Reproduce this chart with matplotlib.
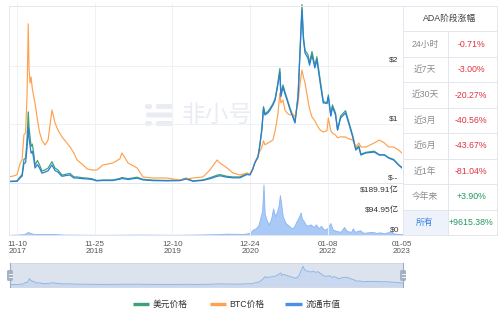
import matplotlib
matplotlib.use('Agg')
import matplotlib.pyplot as plt
import matplotlib.dates as mdates
import pandas as pd
from matplotlib.lines import Line2D
from matplotlib.patches import Rectangle, FancyBboxPatch

FONT = ['Liberation Sans Narrow', 'Liberation Sans', 'Noto Sans CJK SC', 'DejaVu Sans']
plt.rcParams['font.family'] = FONT

# ---------------- data ----------------
dates = ['2017-10-01', '2017-10-20', '2017-11-10', '2017-11-25', '2017-12-05', '2017-12-14',
         '2017-12-22', '2017-12-29', '2018-01-04', '2018-01-08', '2018-01-13', '2018-01-18',
         '2018-01-24', '2018-01-31', '2018-02-06', '2018-02-18', '2018-03-01', '2018-03-12',
         '2018-03-27', '2018-04-11', '2018-04-30', '2018-05-15', '2018-05-29', '2018-06-18',
         '2018-07-12', '2018-07-27', '2018-08-15', '2018-08-30', '2018-09-29', '2018-10-18',
         '2018-11-10', '2018-12-06', '2019-01-04', '2019-02-22', '2019-03-28', '2019-04-07',
         '2019-05-07', '2019-06-20', '2019-07-19', '2019-09-06', '2019-11-13', '2020-01-16',
         '2020-02-15', '2020-03-19', '2020-05-07', '2020-06-10', '2020-07-15', '2020-07-29',
         '2020-09-02', '2020-10-01', '2020-11-04', '2020-12-08', '2020-12-23', '2021-01-05',
         '2021-01-16', '2021-01-31', '2021-02-08', '2021-02-19', '2021-02-27', '2021-03-06',
         '2021-03-21', '2021-03-31', '2021-04-14', '2021-04-25', '2021-05-08', '2021-05-18',
         '2021-05-23', '2021-06-02', '2021-06-12', '2021-06-22', '2021-07-07', '2021-07-20',
         '2021-07-31', '2021-08-15', '2021-08-25', '2021-09-03', '2021-09-10', '2021-09-18',
         '2021-10-02', '2021-10-10', '2021-10-22', '2021-11-05', '2021-11-15', '2021-12-01',
         '2021-12-16', '2022-01-03', '2022-01-10', '2022-01-22', '2022-01-30', '2022-02-14',
         '2022-02-24', '2022-03-11', '2022-04-04', '2022-04-19', '2022-05-09', '2022-05-24',
         '2022-06-08', '2022-06-18', '2022-07-13', '2022-08-22', '2022-09-16', '2022-10-11',
         '2022-10-31', '2022-11-25', '2022-12-19', '2023-01-05']
usd_price = [0.025, 0.028, 0.030, 0.10, 0.14, 0.40, 0.42, 0.72, 1.21, 0.95, 0.78, 0.62,
             0.66, 0.50, 0.30, 0.38, 0.30, 0.20, 0.22, 0.25, 0.36, 0.25, 0.22, 0.13,
             0.15, 0.16, 0.10, 0.10, 0.085, 0.080, 0.070, 0.040, 0.048, 0.048, 0.075, 0.090,
             0.070, 0.095, 0.060, 0.045, 0.040, 0.045, 0.080, 0.032, 0.050, 0.085, 0.13, 0.14,
             0.11, 0.10, 0.10, 0.16, 0.15, 0.23, 0.35, 0.45, 0.62, 0.92, 1.30, 1.18,
             1.22, 1.27, 1.35, 1.44, 1.70, 1.95, 1.50, 1.67, 1.55, 1.44, 1.27, 1.15,
             1.04, 1.50, 2.30, 3.04, 2.50, 2.26, 2.19, 2.05, 2.24, 2.00, 2.15, 1.76,
             1.40, 1.35, 1.50, 1.15, 1.33, 1.19, 0.90, 1.14, 1.23, 1.05, 0.81, 0.58,
             0.63, 0.49, 0.52, 0.54, 0.48, 0.48, 0.43, 0.40, 0.31, 0.26]
btc_price_sat = [300, 330, 400, 950, 1150, 2400, 2500, 4300, 7950, 5650, 4990, 5290,
                 4700, 4290, 3990, 3150, 2500, 2140, 1890, 2140, 3640, 2990, 2640, 2290,
                 1990, 1800, 1490, 1150, 890, 700, 640, 640, 890, 990, 1200, 1490,
                 990, 740, 290, 240, 240, 140, 200, 240, 290, 640, 1140, 990,
                 740, 490, 390, 490, 440, 700, 1000, 1290, 1550, 1790, 2100, 1900,
                 1990, 2050, 2140, 2600, 3400, 4490, 4000, 4140, 3640, 3490, 3390, 3450,
                 3290, 3990, 4990, 5640, 5300, 4990, 4140, 3700, 3290, 3100, 2890, 2640,
                 2540, 2600, 3240, 2600, 2490, 2390, 2250, 2300, 2290, 2200, 2140, 1790,
                 1990, 1790, 1790, 1990, 2140, 1990, 1790, 1790, 1640, 1490]
market_cap_yi = [6.5, 7.2, 7.8, 26, 36, 104, 109, 187, 302, 240, 200, 160,
                 170, 130, 80, 98, 78, 52, 58, 65, 96, 66, 58, 35,
                 40, 42, 26, 26, 22, 21, 18, 10.5, 12.5, 12.5, 19.5, 23.5,
                 18, 25, 15.5, 11.7, 10.5, 11.7, 20.8, 8.3, 13, 22, 35, 38,
                 30, 27, 27, 45, 42, 72, 108, 139, 192, 285, 403, 366,
                 378, 393, 420, 447, 528, 598, 465, 517, 480, 447, 393, 356,
                 323, 463, 715, 933, 775, 701, 674, 635, 690, 620, 663, 539,
                 431, 430, 463, 360, 409, 366, 285, 350, 377, 323, 247, 177,
                 193, 150, 161, 166, 150, 150, 134, 123, 96, 80]

vol_dates = ['2017-10-01', '2017-12-15', '2018-01-04', '2018-01-10', '2018-02-01', '2018-04-30',
             '2018-07-01', '2019-01-01', '2019-06-20', '2020-01-01', '2020-03-15', '2020-07-15',
             '2020-09-01', '2020-11-20', '2020-12-23', '2021-01-05', '2021-01-20', '2021-02-01',
             '2021-02-10', '2021-02-20', '2021-02-27', '2021-03-05', '2021-03-15', '2021-03-25',
             '2021-04-05', '2021-04-15', '2021-04-25', '2021-05-05', '2021-05-12', '2021-05-18',
             '2021-05-24', '2021-06-01', '2021-06-15', '2021-07-01', '2021-07-15', '2021-07-25',
             '2021-08-10', '2021-08-20', '2021-08-28', '2021-09-03', '2021-09-10', '2021-09-20',
             '2021-10-01', '2021-10-15', '2021-10-30', '2021-11-10', '2021-11-25', '2021-12-05',
             '2021-12-20', '2022-01-05', '2022-01-20', '2022-02-01', '2022-02-20', '2022-03-10',
             '2022-03-28', '2022-04-10', '2022-05-01', '2022-05-10', '2022-05-20', '2022-06-13',
             '2022-07-01', '2022-07-20', '2022-08-15', '2022-09-01', '2022-09-20', '2022-10-10',
             '2022-11-09', '2022-11-25', '2022-12-15', '2023-01-05']
volume_yi = [0.5, 3, 12, 8, 4, 4,
             1.5, 0.6, 1.5, 0.8, 1.5, 3,
             5, 4, 8, 20, 25, 35,
             60, 90, 189.91, 80, 55, 40,
             60, 100, 70, 90, 110, 150,
             120, 70, 45, 35, 25, 30,
             55, 70, 85, 60, 55, 40,
             35, 40, 30, 40, 25, 35,
             20, 25, 45, 20, 15, 12,
             30, 15, 12, 25, 12, 18,
             8, 10, 12, 8, 10, 6,
             14, 6, 4, 4]

tick_dates = ['2017-11-10', '2018-11-25', '2019-12-10', '2020-12-24', '2022-01-08', '2023-01-05']
tick_labels = ['11-10\n2017', '11-25\n2018', '12-10\n2019', '12-24\n2020', '01-08\n2022', '01-05\n2023']
price_ticks = [0, 1, 2]
price_tick_labels = ['$--', '$1', '$2']
vol_ticks = [0, 94.95, 189.91]
vol_tick_labels = ['$0', '$94.95亿', '$189.91亿']
table_title = 'ADA阶段涨幅'
period_labels = ['24小时', '近7天', '近30天', '近3月', '近6月', '近1年', '今年来', '所有']
period_changes = ['-0.71%', '-3.00%', '-20.27%', '-40.56%', '-43.67%', '-81.04%', '+3.90%', '+9615.38%']
legend_labels = ['美元价格', 'BTC价格', '流通市值']

# ---------------- styling ----------------
GREEN = '#3fa276'
ORANGE = '#ffa14e'
BLUE = '#2d7dd6'
GRID = '#eff1f5'
BORDER = '#e3e6ee'

W, H = 500, 320
fig = plt.figure(figsize=(5, 3.2), dpi=100)
fig.patch.set_facecolor('white')


def box(x0, y0, x1, y1):
    return [x0 / W, 1 - y1 / H, (x1 - x0) / W, (y1 - y0) / H]


def fline(x0, y0, x1, y1, color=BORDER, lw=0.7, **kw):
    fig.add_artist(Line2D([x0 / W, x1 / W], [1 - y0 / H, 1 - y1 / H],
                          transform=fig.transFigure, color=color, lw=lw, **kw))


def ftext(x, y, s, **kw):
    fig.text(x / W, 1 - y / H, s, **kw)


d = mdates.date2num(pd.to_datetime(dates))
vd = mdates.date2num(pd.to_datetime(vol_dates))
td = mdates.date2num(pd.to_datetime(tick_dates))
x0d = mdates.date2num(pd.Timestamp('2017-10-01'))
x1d = mdates.date2num(pd.Timestamp('2023-01-05'))

PX_L, PX_R = 8.8, 402
Y_TOP, Y_BASE, Y_VB = 3, 182.8, 235
px_per_usd = 58.6

# watermark
for (yy, segs) in [(106.5, [(145, 152), (156, 173)]), (115, [(146, 173)]), (123.5, [(145, 152), (156, 173)])]:
    for (a, b) in segs:
        fig.add_artist(FancyBboxPatch((a / W, 1 - (yy + 2.5) / H), (b - a) / W, 5 / H,
                                      boxstyle='round,pad=0,rounding_size=0.005',
                                      transform=fig.transFigure, color='#e9edf3', lw=0, zorder=0))
ftext(217, 115, '非小号', fontsize=17, color='#e9edf3', ha='center', va='center',
      family=['Noto Sans CJK SC'], zorder=0)

# price axes
ax_p = fig.add_axes(box(PX_L, Y_TOP, PX_R, Y_BASE))
ax_b = ax_p.twinx()
ax_m = ax_p.twinx()
ptop = (Y_BASE - Y_TOP) / px_per_usd
ax_p.set_ylim(0, ptop)
ax_b.set_ylim(0, (Y_BASE - Y_TOP) * 50)
ax_m.set_ylim(0, (Y_BASE - Y_TOP) * 5.4)
for a in (ax_p, ax_b, ax_m):
    a.set_xlim(x0d, x1d)
    a.patch.set_visible(False)
    for s in a.spines.values():
        s.set_visible(False)
    a.set_yticks([])
    a.tick_params(axis='x', length=0, labelbottom=False)
ax_p.set_xticks(td)
ax_p.grid(axis='x', color=GRID, lw=0.7)
for v in price_ticks[1:]:
    ax_p.axhline(v, color=GRID, lw=0.7, zorder=0)

ax_p.plot(d, usd_price, color=GREEN, lw=0.9, zorder=3)
ax_b.plot(d, btc_price_sat, color=ORANGE, lw=0.85, zorder=3)
ax_m.plot(d, market_cap_yi, color=BLUE, lw=0.9, zorder=3)

for v, lab in zip(price_ticks, price_tick_labels):
    ax_p.annotate(lab, xy=(1, v), xycoords=('axes fraction', 'data'), xytext=(-2.5, 1.2),
                  textcoords='offset points', ha='right', va='bottom', fontsize=6, color='#333333')

# volume axes
ax_v = fig.add_axes(box(PX_L, Y_BASE, PX_R, Y_VB), sharex=ax_p)
ax_v.set_ylim(0, 196)
ax_v.fill_between(vd, 0, volume_yi, color='#a9c9f6', lw=0.6, edgecolor='#8ab6f3')
ax_v.patch.set_visible(False)
for s in ax_v.spines.values():
    s.set_visible(False)
ax_v.set_yticks([])
ax_v.grid(axis='x', color=GRID, lw=0.7)
ax_v.set_xticks(td)
ax_v.set_xticklabels(tick_labels, fontsize=5.8, color='#555555', linespacing=1.0)
ax_v.tick_params(axis='x', length=0, pad=4.2)
vas = ['bottom', 'center', 'top']
offs = [1.0, 0, -1.5]
for v, lab, va, o in zip(vol_ticks, vol_tick_labels, vas, offs):
    ax_v.annotate(lab, xy=(1, v), xycoords=('axes fraction', 'data'), xytext=(-2, o),
                  textcoords='offset points', ha='right', va=va, fontsize=6, color='#333333')

# frame lines
fline(9, 6, 497, 6)
fline(9, 6, 9, Y_VB)
fline(9, Y_BASE, 403, Y_BASE)
fline(9, Y_VB, 497, Y_VB)

# table
TX0, TXM, TX1 = 403, 448, 497
TY0, TY1 = 6, 235
rh = (TY1 - TY0) / 9
fig.add_artist(Rectangle((TX0 / W, 1 - (TY0 + 9 * rh) / H), (TXM - TX0) / W, rh / H,
                         transform=fig.transFigure, color='#eef3fb', lw=0, zorder=0))
for k in range(10):
    fline(TX0, TY0 + k * rh, TX1, TY0 + k * rh)
fline(TX0, TY0, TX0, TY1)
fline(TX1, TY0, TX1, TY1)
fline(TXM, TY0 + rh, TXM, TY1)
ftext((TX0 + TX1) / 2, TY0 + rh / 2, table_title, fontsize=6.3, color='#444444', ha='center', va='center')
for i, (lab, val) in enumerate(zip(period_labels, period_changes)):
    yc = TY0 + (i + 1.5) * rh
    lc = '#3a7ee0' if lab == '所有' else '#8a8a8a'
    vc = '#1f9a5c' if val.startswith('+') else '#e2323f'
    ftext(425, yc, lab, fontsize=6.3, color=lc, ha='center', va='center')
    ftext(471, yc, val, fontsize=6.3, color=vc, ha='center', va='center')

# navigator
ax_n = fig.add_axes(box(10, 263, 403, 287))
ax_n.set_facecolor('#dde3ed')
ax_n.set_xlim(x0d, x1d)
ax_n.set_ylim(-120, 1100)
ax_n.fill_between(d, -120, market_cap_yi, color='#c9d8ee', lw=0)
ax_n.plot(d, market_cap_yi, color='#8db8e8', lw=0.7)
ax_n.set_xticks([])
ax_n.set_yticks([])
for s in ax_n.spines.values():
    s.set_color('#d0d7e3')
    s.set_linewidth(0.6)
for hx in (10, 403):
    fline(hx, 263, hx, 287, color='#9eabc1', lw=0.8)
    fig.add_artist(FancyBboxPatch(((hx - 3) / W, 1 - 281 / H), 6 / W, 11 / H,
                                  boxstyle='round,pad=0,rounding_size=0.004',
                                  transform=fig.transFigure, color='#a6b2c6', lw=0))
    fline(hx - 1.5, 274, hx + 1.5, 274, color='white', lw=0.6)
    fline(hx - 1.5, 277, hx + 1.5, 277, color='white', lw=0.6)

# legend
leg = [(133, 149, GREEN, legend_labels[0]), (210, 226, ORANGE, legend_labels[1]),
       (285, 302, '#4b8fe8', legend_labels[2])]
for a, b, c, lab in leg:
    fline(a, 304, b, 304, color=c, lw=2.4, solid_capstyle='butt')
    ftext(b + 3.5, 304, lab, fontsize=6.3, color='#333333', ha='left', va='center')

fig.savefig('out.png', dpi=100)
